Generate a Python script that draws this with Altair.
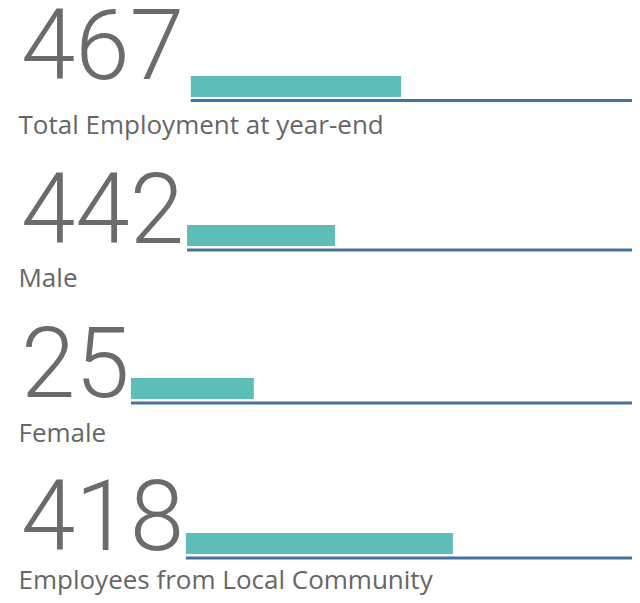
import altair as alt
import pandas as pd

# ---- data ----
values = ["467", "442", "25", "418"]
labels = ["Total Employment at year-end", "Male", "Female", "Employees from Local Community"]
bar_start = [29.3, 28.7, 19.7, 28.5]   # % of row width
bar_end = [63.0, 52.4, 39.4, 71.3]     # % of row width
line_end = [100, 100, 100, 100]

# ---- layout (pixels from chart top / % of width) ----
W, H = 624, 587
bar_top = [68, 217, 370, 525]
bar_h = 21
line_y = [92.5, 242, 395, 550]
num_base = [71, 235, 389, 542]
lab_base = [126, 279, 434, 581]
num_x = 2.08
lab_x = 1.68

df = pd.DataFrame({
    "value": values, "label": labels,
    "start": bar_start, "end": bar_end, "lend": line_end,
    "btop": bar_top, "bbot": [t + bar_h for t in bar_top],
    "ly": line_y, "ny": num_base, "lb": lab_base,
    "nx": [num_x] * 4, "lx": [lab_x] * 4,
})

xs = alt.Scale(domain=[0, 100], range=[0, W], nice=False, zero=False)
ys = alt.Scale(domain=[0, H], range=[0, H], nice=False, zero=False)

base = alt.Chart(df)

line = base.mark_rule(color="#45729e", strokeWidth=3).encode(
    x=alt.X("start:Q", scale=xs, axis=None), x2="lend:Q",
    y=alt.Y("ly:Q", scale=ys, axis=None),
)
bar = base.mark_rect(color="#5fbdb8").encode(
    x=alt.X("start:Q", scale=xs, axis=None), x2="end:Q",
    y=alt.Y("btop:Q", scale=ys, axis=None), y2="bbot:Q",
)
num = base.mark_text(font="Roboto", fontWeight=300, fontSize=98, color="#6b6b6b",
                     align="left", baseline="alphabetic").encode(
    x=alt.X("nx:Q", scale=xs, axis=None), y=alt.Y("ny:Q", scale=ys, axis=None), text="value:N",
)
lab = base.mark_text(font="Open Sans", fontSize=26, color="#666666",
                     align="left", baseline="alphabetic").encode(
    x=alt.X("lx:Q", scale=xs, axis=None), y=alt.Y("lb:Q", scale=ys, axis=None), text="label:N",
)

chart = alt.layer(line, bar, num, lab).properties(
    width=W, height=H, autosize=alt.AutoSizeParams(type="none"), padding=0,
).configure_view(stroke=None)

chart.save("out.html", embed_options={"renderer": "svg", "actions": False})
